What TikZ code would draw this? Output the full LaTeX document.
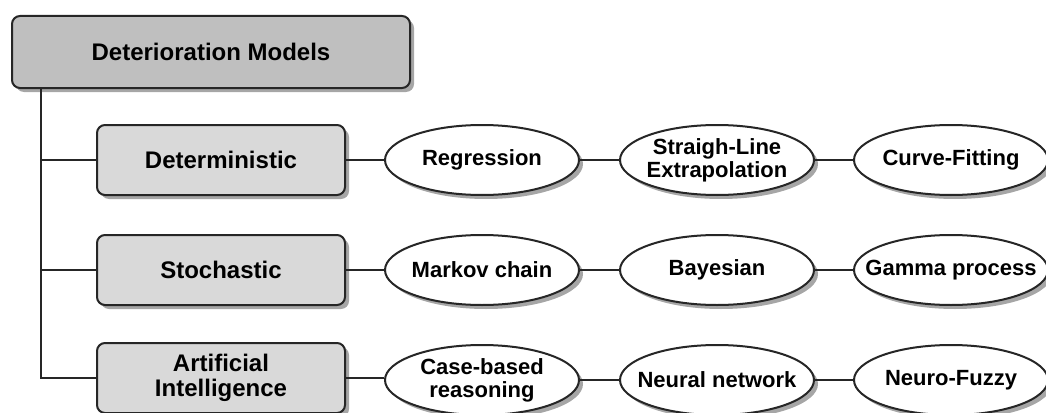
\documentclass[tikz,border=0pt]{standalone}
\usepackage{fontspec}
\setmainfont{Liberation Sans}
\usetikzlibrary{shapes.geometric,shadows}

\begin{document}
\begin{tikzpicture}[x=1pt,y=-1pt,font=\fontsize{24}{25}\selectfont\bfseries]
    \tikzset{
        shade/.style={
            drop shadow={shadow xshift=4pt,shadow yshift=-4pt,fill=black!35,opacity=1}
        },
        topbox/.style={
            draw=black!85,line width=2pt,rounded corners=8pt,fill=black!25,shade,
            minimum width=398pt,minimum height=72pt,inner sep=0pt
        },
        catbox/.style={
            draw=black!85,line width=2pt,rounded corners=8pt,fill=black!15,shade,
            minimum width=248pt,minimum height=70pt,inner sep=0pt,align=center
        },
        model/.style={
            ellipse,draw=black!85,line width=2pt,fill=white,shade,
            font=\fontsize{22}{23}\selectfont\bfseries,
            minimum width=194pt,minimum height=70pt,inner xsep=-25pt,inner ysep=0pt,
            align=center
        },
        link/.style={draw=black!85,line width=2pt}
    }
    \useasboundingbox (0,0) rectangle (1046,412);

    \node[topbox] (root) at (211,52) {Deterioration Models};
    \node[catbox] (det) at (221,160) {Deterministic};
    \node[catbox] (sto) at (221,270) {Stochastic};
    \node[catbox] (ai) at (221,378) {Artificial\\Intelligence};

    \node[model] (reg) at (482,160) {Regression};
    \node[model] (sle) at (717,160) {Straigh-Line\\Extrapolation};
    \node[model] (cfit) at (951,160) {Curve-Fitting};
    \node[model] (mkv) at (482,270) {Markov chain};
    \node[model] (bay) at (717,270) {Bayesian};
    \node[model] (gam) at (951,270) {Gamma process};
    \node[model] (cbr) at (482,380) {Case-based\\reasoning};
    \node[model] (nn) at (717,380) {Neural network};
    \node[model] (nfz) at (951,380) {Neuro-Fuzzy};

    \coordinate (trunk) at ([xshift=30pt] root.south west);

    % tree trunk and branches
    \draw[link] (trunk) |- (ai.west);
    \draw[link] (det.west -| trunk) -- (det.west);
    \draw[link] (sto.west -| trunk) -- (sto.west);

    % rows of models
    \draw[link] (det) -- (reg);
    \draw[link] (reg) -- (sle);
    \draw[link] (sle) -- (cfit);
    \draw[link] (sto) -- (mkv);
    \draw[link] (mkv) -- (bay);
    \draw[link] (bay) -- (gam);
    \draw[link] (ai.east) -- (ai.east -| cbr.west);
    \draw[link] (cbr) -- (nn);
    \draw[link] (nn) -- (nfz);
\end{tikzpicture}
\end{document}
